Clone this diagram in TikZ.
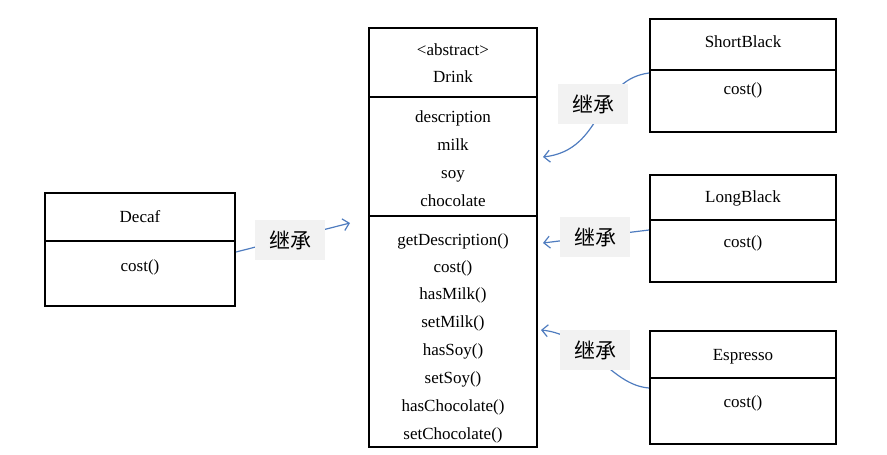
\documentclass[tikz,border=0pt]{standalone}
\usepackage{fontspec}
\setmainfont{Liberation Serif}
\newfontfamily\cjk{Noto Sans CJK SC}
\usetikzlibrary{arrows.meta}
\definecolor{conn}{HTML}{4F7CBF}
\definecolor{lblbg}{HTML}{F2F2F2}
\tikzset{
  box/.style={draw=black, line width=2pt, inner sep=0pt},
  divider/.style={draw=black, line width=2pt},
  txt/.style={inner sep=0pt, text height=11.5pt, text depth=3.5pt, yshift=-1.5pt, font=\fontsize{17}{20}\selectfont},
  conline/.style={draw=conn, line width=1.2pt, -{Straight Barb[length=6pt,width=12pt,line width=1.2pt]}},
  lbl/.style={fill=lblbg, minimum width=70pt, minimum height=40pt, inner sep=0pt, font=\cjk\fontsize{21}{25}\selectfont}
}
\begin{document}
\begin{tikzpicture}[x=1pt,y=-1pt]
\useasboundingbox (0,0) rectangle (887,455);
% Boxes
\node[box, minimum width=168pt, minimum height=419pt] (drink) at (453,237.5) {};
\node[box, minimum width=190pt, minimum height=113pt] (decaf) at (140,249.5) {};
\node[box, minimum width=186pt, minimum height=113pt] (sb) at (743,75.5) {};
\node[box, minimum width=186pt, minimum height=107pt] (lb) at (743,228.5) {};
\node[box, minimum width=186pt, minimum height=113pt] (es) at (743,387.5) {};
% Dividers
\draw[divider] (drink.west |- 0,97) -- (drink.east |- 0,97);
\draw[divider] (drink.west |- 0,216) -- (drink.east |- 0,216);
\draw[divider] (decaf.west |- 0,241) -- (decaf.east |- 0,241);
\draw[divider] (sb.west |- 0,70) -- (sb.east |- 0,70);
\draw[divider] (lb.west |- 0,220) -- (lb.east |- 0,220);
\draw[divider] (es.west |- 0,378) -- (es.east |- 0,378);
% Drink texts
\node[txt] (t1) at (453,50) {<abstract>};
\node[txt] (t2) at (453,77) {Drink};
\node[txt] (f1) at (453,117) {description};
\node[txt] (f2) at (453,145) {milk};
\node[txt] (f3) at (453,173) {soy};
\node[txt] (f4) at (453,201) {chocolate};
\node[txt] (m1) at (453,240) {getDescription()};
\node[txt] (m2) at (453,267) {cost()};
\node[txt] (m3) at (453,294) {hasMilk()};
\node[txt] (m4) at (453,322) {setMilk()};
\node[txt] (m5) at (453,350) {hasSoy()};
\node[txt] (m6) at (453,378) {setSoy()};
\node[txt] (m7) at (453,406) {hasChocolate()};
\node[txt] (m8) at (453,434) {setChocolate()};
% Other texts
\node[txt] (dt) at (140,217) {Decaf};
\node[txt] (dc) at (140,266) {cost()};
\node[txt] (sbt) at (743,42) {ShortBlack};
\node[txt] (sbc) at (743,89) {cost()};
\node[txt] (lbt) at (743,197) {LongBlack};
\node[txt] (lbc) at (743,242) {cost()};
\node[txt] (est) at (743,355) {Espresso};
\node[txt] (esc) at (743,402) {cost()};
% Connector end points
\coordinate (s1) at (decaf.east |- 0,252);
\coordinate (e1) at (350,223);
\coordinate (s2) at (sb.west |- 0,73);
\coordinate (e2) at (543,157);
\coordinate (s3) at (lb.west |- 0,230);
\coordinate (e3) at (543,243);
\coordinate (s4) at (es.west |- 0,388);
\coordinate (e4) at (541,330);
% Connectors
\draw[conline] (s1) -- (e1);
\draw[conline] (s2) .. controls (595,80) and (605,150) .. (e2);
\draw[conline] (s3) -- (e3);
\draw[conline] (s4) .. controls (610,385) and (590,335) .. (e4);
% Labels
\node[lbl] (l1) at (290,240) {继承};
\node[lbl] (l2) at (593,104) {继承};
\node[lbl] (l3) at (595,237) {继承};
\node[lbl] (l4) at (595,350) {继承};
\end{tikzpicture}
\end{document}
